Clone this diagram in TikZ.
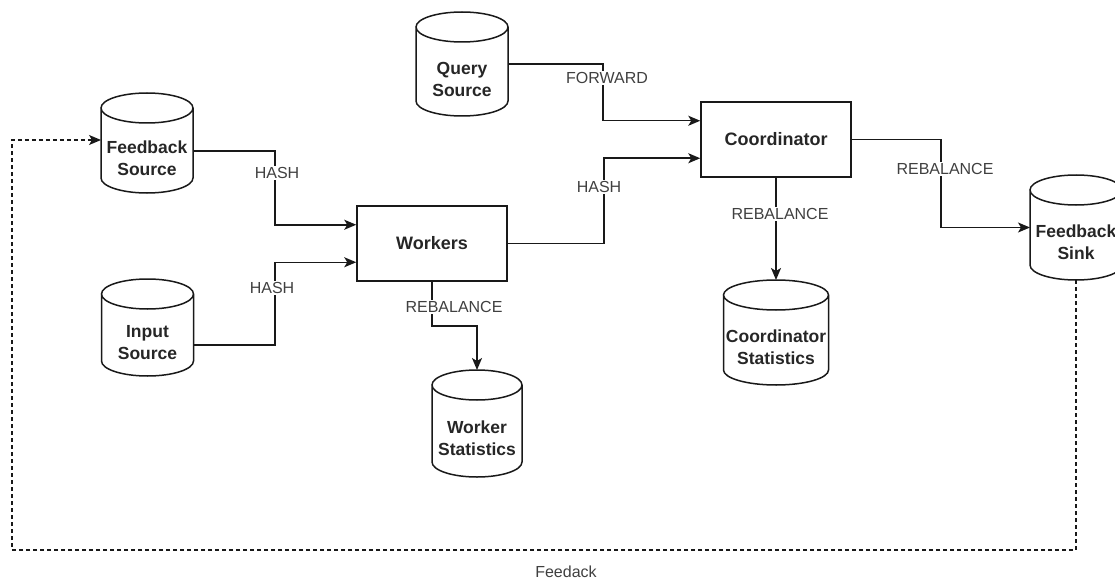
\documentclass[tikz,border=0pt]{standalone}
\usepackage{fontspec}
\setmainfont{Liberation Sans}
\usetikzlibrary{arrows.meta,calc}
\newcommand{\cyl}[6]{%
  \node[cylbox, minimum width=#5pt, minimum height={#4pt-#3pt}] (#1) at (#2,{(#3+#4)/2}) {};
  \draw[ln] ([yshift=-15pt]#1.north west) -- ([yshift=15pt]#1.south west)
    arc[start angle=180,end angle=360,x radius={#5pt/2},y radius=15pt]
    -- ([yshift=-15pt]#1.north east)
    arc[start angle=0,end angle=180,x radius={#5pt/2},y radius=15pt]
    arc[start angle=180,end angle=360,x radius={#5pt/2},y radius=15pt];
  \node[cyltext] (#1-t) at ($(#1.south)!0.5!([yshift=-30pt]#1.north)$) {#6};
}
\begin{document}
\begin{tikzpicture}[x=1pt,y=-1pt,
  ln/.style={line width=1.5pt, draw=black!90},
  tip/.style={-{Stealth[length=12pt,width=10pt,inset=3pt]}},
  arr/.style={ln, tip},
  box/.style={draw=black!90, line width=1.5pt, minimum width=150pt, minimum height=75pt,
    font=\fontsize{18}{22}\selectfont\bfseries, text=black!85},
  cylbox/.style={inner sep=0pt, outer sep=0pt},
  cyltext/.style={align=center, font=\fontsize{17.5}{22}\selectfont\bfseries, inner sep=0pt, text=black!85},
  lbl/.style={fill=white, font=\fontsize{16}{19}\selectfont, text=black!75, inner sep=1pt},
  fb/.style={line width=1.3pt, draw=black!90, dash pattern=on 4pt off 3pt}]
\useasboundingbox (0,0) rectangle (1115,580);
\node[box] (workers) at (432,243.5) {Workers};
\node[box] (coord) at (776,139.5) {Coordinator};
\cyl{fsrc}{147}{93}{193}{92}{Feedback\\Source}
\cyl{isrc}{147.5}{279}{376}{92}{Input\\Source}
\cyl{qsrc}{462}{12}{116}{92}{Query\\Source}
\cyl{wstat}{477}{370}{477}{90}{Worker\\Statistics}
\cyl{cstat}{776}{280}{385}{105}{Coordinator\\Statistics}
\cyl{fsink}{1076}{175}{280}{92}{Feedback\\Sink}
% connectors
\draw[arr] ($(fsrc.east)+(0,8)$) -- ++(82,0) |- ($(workers.west)+(0,-18.75)$);
\draw[arr] ($(isrc.east)+(0,17.5)$) -- ++(81.5,0) |- ($(workers.west)+(0,18.75)$);
\draw[arr] (workers.east) -- ++(96,0) |- ($(coord.west)+(0,18.75)$);
\draw[arr] (qsrc.east) -- ++(95,0) |- ($(coord.west)+(0,-18.75)$);
\draw[arr] (coord.east) -- ++(89,0) |- (fsink.west);
\draw[arr] (coord.south) -- (cstat.north);
\draw[arr] (workers.south) -- ++(0,44) -| (wstat.north);
\coordinate (fbl) at (12,550);
\draw[fb, tip] (fsink.south) |- (fbl) |- ($(fsrc.west)+(0,-3)$);
% labels
\node[lbl] (l1) at (277,173) {HASH};
\node[lbl] (l2) at (272,288) {HASH};
\node[lbl] (l3) at (599,187) {HASH};
\node[lbl] (l4) at (607,78) {FORWARD};
\node[lbl] (l5) at (945,169) {REBALANCE};
\node[lbl] (l6) at (780,214) {REBALANCE};
\node[lbl] (l7) at (454,307) {REBALANCE};
\node[font=\fontsize{16}{19}\selectfont, text=black!75, inner sep=1pt] (l8) at (566,572) {Feedack};
\end{tikzpicture}
\end{document}
